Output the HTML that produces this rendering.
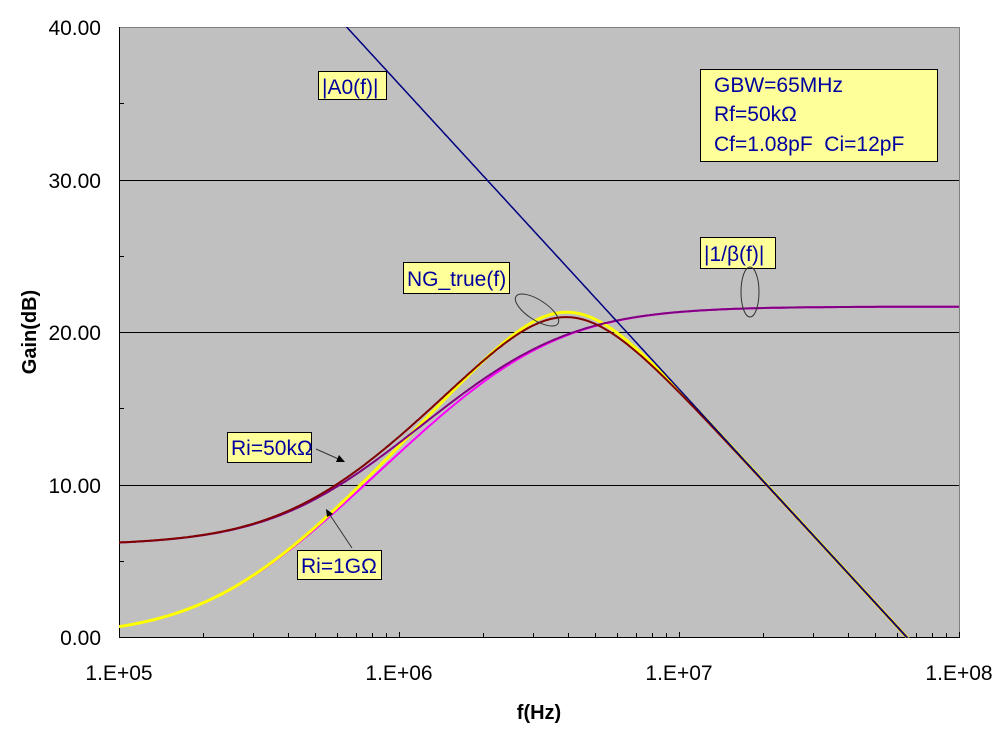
<!DOCTYPE html>
<html><head><meta charset="utf-8"><style>
body{margin:0;background:#fff;}
svg{display:block;font-family:"Liberation Sans",Arial,sans-serif;}
</style></head><body>
<svg id="s" width="1005" height="732" viewBox="0 0 1005 732">
<rect x="119.5" y="27.5" width="840" height="610" fill="#c0c0c0" stroke="#808080" stroke-width="1"/>
<g stroke="#000" stroke-width="1">
<line x1="119" y1="180.5" x2="959" y2="180.5"/>
<line x1="119" y1="332.5" x2="959" y2="332.5"/>
<line x1="119" y1="485.5" x2="959" y2="485.5"/>
<line x1="119.5" y1="27" x2="119.5" y2="638"/>
<line x1="119" y1="637.5" x2="960" y2="637.5"/>
</g>
<g id="ticks" stroke="#000" stroke-width="1"></g>
<g id="curves" fill="none" stroke-linejoin="round"></g>
<g font-size="21" fill="#000" text-anchor="end">
<text x="101" y="35">40.00</text>
<text x="101" y="188">30.00</text>
<text x="101" y="340">20.00</text>
<text x="101" y="493">10.00</text>
<text x="101" y="645">0.00</text>
</g>
<g font-size="21" fill="#000" text-anchor="middle">
<text x="119" y="680">1.E+05</text>
<text x="399" y="680">1.E+06</text>
<text x="679" y="680">1.E+07</text>
<text x="959" y="680">1.E+08</text>
<text x="539" y="719" font-weight="bold" font-size="20">f(Hz)</text>
</g>
<text transform="translate(36,332) rotate(-90)" text-anchor="middle" font-size="20" font-weight="bold">Gain(dB)</text>
<g fill="#ffff99" stroke="#000" stroke-width="1">
<rect x="318.5" y="71.5" width="68" height="28"/>
<rect x="403.5" y="262.5" width="106" height="31"/>
<rect x="700.5" y="237.5" width="75" height="31"/>
<rect x="227.5" y="432.5" width="84" height="30"/>
<rect x="297.5" y="550.5" width="84" height="29"/>
<rect x="700.5" y="69.5" width="237" height="92"/>
</g>
<g fill="#0000a0" font-size="21">
<text x="322" y="94">|A0(f)|</text>
<text x="407" y="286">NG_true(f)</text>
<text x="704" y="261">|1/β(f)|</text>
<text x="231" y="455">Ri=50kΩ</text>
<text x="301" y="573">Ri=1GΩ</text>
<text x="714" y="92">GBW=65MHz</text>
<text x="714" y="121">Rf=50kΩ</text>
<text x="714" y="151">Cf=1.08pF&#160; Ci=12pF</text>
</g>
<g fill="none" stroke="#333" stroke-width="1">
<ellipse cx="537" cy="310" rx="25" ry="10" transform="rotate(33 537 310)"/>
<ellipse cx="750" cy="292" rx="9" ry="25"/>
<line x1="316" y1="449" x2="343" y2="461"/>
<line x1="352" y1="548" x2="328" y2="512"/>
</g>
<g fill="#000">
<polygon points="345,462 336,462 339,455"/>
<polygon points="326,509 333,514 327,517"/>
</g>
</svg>
<script>
(function(){
function X(lf){return 119+(lf-5)*280;}
function Y(db){return 637-db*15.25;}
var tk=document.getElementById("ticks"),s="";
for(var d=5;d<8;d++)for(var m=2;m<=10;m++){var x=Math.round(X(d+Math.log10(m)))+0.5;s+='<line x1="'+x+'" y1="637" x2="'+x+'" y2="'+(m==10?632:633)+'"/>';}
for(var v=5;v<40;v+=10){var y=Math.round(Y(v))+0.5;s+='<line x1="119" y1="'+y+'" x2="124" y2="'+y+'"/>';}
tk.innerHTML=s;
var Rf=50e3,Cf=1.08e-12,Ci=12e-12,GBW=65e6;
function cdiv(a,b){var d=b[0]*b[0]+b[1]*b[1];return[(a[0]*b[0]+a[1]*b[1])/d,(a[1]*b[0]-a[0]*b[1])/d];}
function cmul(a,b){return[a[0]*b[0]-a[1]*b[1],a[0]*b[1]+a[1]*b[0]];}
function par(R,C,w){return cdiv([R,0],[1,w*R*C]);}
function invb(Ri,f){var w=2*Math.PI*f;var zf=par(Rf,Cf,w),zi=par(Ri,Ci,w);var r=cdiv(zf,zi);return[1+r[0],r[1]];}
function A(f){return cdiv([GBW,0],[10,f]);}
function mag(c){return Math.sqrt(c[0]*c[0]+c[1]*c[1]);}
function db(c){return 20*Math.log10(mag(c));}
function path(fn){var p="";for(var i=0;i<=840;i+=2){var lf=5+i/280,f=Math.pow(10,lf);var v=fn(f);var y=Y(v);if(y>700)y=700;p+=(i?"L":"M")+(119+i)+","+y.toFixed(1);}return p;}
function ng(Ri){return function(f){var a=A(f),ib=invb(Ri,f);var b=cdiv([1,0],ib);var ab=cmul(a,b);return db(cdiv(a,[1+ab[0],ab[1]]));};}
var g=document.getElementById("curves"),h="";
function add(d,c,w){h+='<path d="'+d+'" stroke="'+c+'" stroke-width="'+w+'" clip-path="url(#cp)"/>';}
h+='<defs><clipPath id="cp"><rect x="119" y="27" width="841" height="611"/></clipPath></defs>';
add(path(function(f){return db(invb(1e9,f));}),"#ff00ff",2);
add(path(ng(1e9)),"#ffff00",3);
add(path(function(f){return db(invb(Rf,f));}),"#800080",2);
add(path(ng(Rf)),"#800000",2);
add(path(function(f){return db(A(f));}),"#000080",1.5);
g.innerHTML=h;
})();
</script>
</body></html>
